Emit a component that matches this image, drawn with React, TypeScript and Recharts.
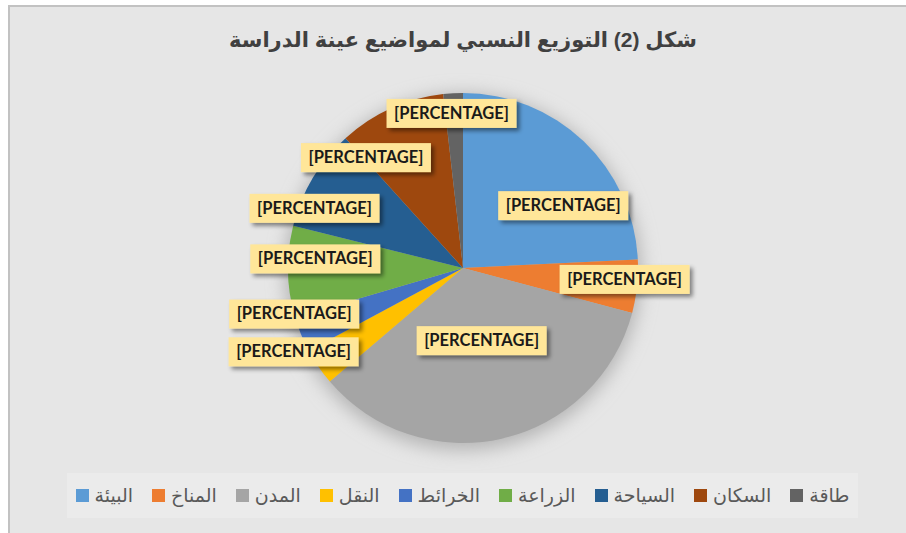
import { Cell, Legend, Pie, PieChart } from 'recharts';

const categories = ['البيئة', 'المناخ', 'المدن', 'النقل', 'الخرائط', 'الزراعة', 'السياحة', 'السكان', 'طاقة'];
const shares = [24.2, 4.9, 34.6, 3.4, 3.3, 8.4, 9.4, 9.9, 1.8];
const colors = ['#5B9BD5', '#ED7D31', '#A5A5A5', '#FFC000', '#4472C4', '#70AD47', '#255E91', '#9E480E', '#636363'];
const labelText = '[PERCENTAGE]';
const title = 'شكل (2) التوزيع النسبي لمواضيع عينة الدراسة';

// where Excel left each data label: turn (deg, clockwise) from the slice middle, distance from centre
const labelNudge = [
  { turn: 14.5, dist: 118 },
  { turn: -2, dist: 162 },
  { turn: -1.6, dist: 75 },
  { turn: 8, dist: 189 },
  { turn: 7, dist: 175 },
  { turn: 4.7, dist: 148 },
  { turn: -9, dist: 160 },
  { turn: -17, dist: 147 },
  { turn: -1, dist: 155 },
];

const data = categories.map((name, i) => ({ name, value: shares[i] }));

const arabicFont = 'Arial, "Liberation Sans", "DejaVu Sans", sans-serif';

function renderLabel(props: any) {
  const { cx, cy, midAngle, index } = props;
  const nudge = labelNudge[index];
  const theta = ((90 - midAngle + nudge.turn) * Math.PI) / 180;
  const x = cx + nudge.dist * Math.sin(theta);
  const y = cy - nudge.dist * Math.cos(theta);
  const w = 130;
  const h = 29;
  return (
    <g key={`lbl-${index}`}>
      <rect x={x - w / 2} y={y - h / 2} width={w} height={h} fill="#FFE699" filter="url(#lblShadow)" />
      <text
        x={x}
        y={y + 1}
        textAnchor="middle"
        dominantBaseline="middle"
        fontFamily="Lato, 'Open Sans', sans-serif"
        fontWeight={700}
        fontSize={16.5}
        fill="#1a1a1a"
      >
        {labelText}
      </text>
    </g>
  );
}

function LegendBox() {
  return (
    <div
      style={{
        width: 791,
        height: 45,
        background: '#ebebeb',
        display: 'flex',
        alignItems: 'center',
        justifyContent: 'center',
        gap: 19,
        fontFamily: arabicFont,
        fontSize: 19,
        color: '#595959',
      }}
    >
      {categories.map((c, i) => (
        <div key={c} style={{ display: 'flex', alignItems: 'center' }}>
          <span style={{ width: 13, height: 13, background: colors[i], marginRight: 6, display: 'inline-block' }} />
          <span>{c}</span>
        </div>
      ))}
    </div>
  );
}

export default function App() {
  return (
    <>
      <style>{'body{margin:0;overflow:hidden} .pie-shadow path{filter:url(#pieShadow)}'}</style>
      <div
        style={{
          position: 'absolute',
          left: 8,
          top: 5,
          width: 910,
          height: 540,
          boxSizing: 'border-box',
          borderTop: '2px solid #c2c2c2',
          borderLeft: '2px solid #c2c2c2',
          background: '#e6e6e6',
        }}
      >
        <div
          style={{
            position: 'absolute',
            left: 0,
            top: 21,
            width: 906,
            textAlign: 'center',
            fontFamily: arabicFont,
            fontWeight: 700,
            fontSize: 21,
            color: '#404040',
          }}
        >
          {title}
        </div>
        <PieChart width={906} height={536} margin={{ top: 0, right: 0, bottom: 0, left: 0 }}>
          <defs>
            <filter id="lblShadow" x="-20%" y="-40%" width="150%" height="200%">
              <feDropShadow dx="3" dy="3" stdDeviation="2" floodColor="#000" floodOpacity="0.45" />
            </filter>
            <filter id="pieShadow" x="-30%" y="-30%" width="160%" height="160%">
              <feGaussianBlur stdDeviation="9" />
            </filter>
          </defs>
          <Pie
            className="pie-shadow"
            data={[{ name: 'shadow', value: 1 }]}
            dataKey="value"
            cx={453}
            cy={265}
            outerRadius={178}
            startAngle={90}
            endAngle={-270}
            stroke="none"
            fill="#b4b4b4"
            isAnimationActive={false}
            legendType="none"
          />
          <Pie
            data={data}
            dataKey="value"
            nameKey="name"
            cx={453}
            cy={261}
            outerRadius={175}
            startAngle={90}
            endAngle={-270}
            stroke="none"
            label={renderLabel}
            labelLine={false}
            isAnimationActive={false}
          >
            {data.map((d, i) => (
              <Cell key={d.name} fill={colors[i]} />
            ))}
          </Pie>
          <Legend
            content={() => <LegendBox />}
            wrapperStyle={{ position: 'absolute', left: 57, top: 466, width: 791, height: 45, bottom: 'auto' }}
          />
        </PieChart>
      </div>
    </>
  );
}
